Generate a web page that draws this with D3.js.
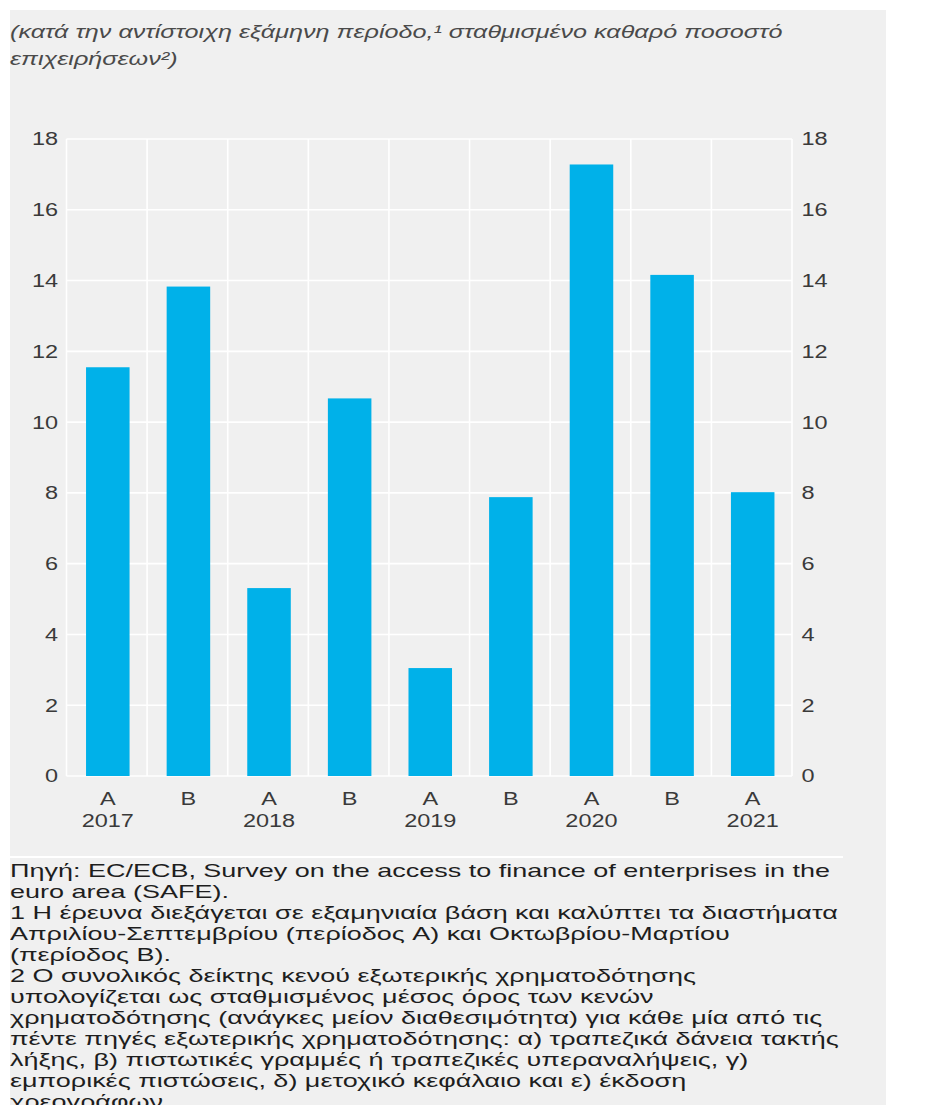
<!DOCTYPE html>
<html>
<head>
<meta charset="utf-8">
<script src="https://cdn.jsdelivr.net/npm/d3@7"></script>
<style>
  html, body { margin: 0; padding: 0; background: #ffffff; }
  svg { display: block; }
  text { font-family: "Liberation Sans", Arial, Helvetica, sans-serif; }
</style>
</head>
<body>
<svg id="chart" width="951" height="1115"></svg>
<script>
// Half-year survey rounds (A = Apr–Sep, B = Oct–Mar)
const periods = ["A", "B", "A", "B", "A", "B", "A", "B", "A"];
const years   = ["2017", "", "2018", "", "2019", "", "2020", "", "2021"];
// Weighted net percentage of enterprises (financing gap indicator)
const values  = [11.55, 13.83, 5.31, 10.67, 3.05, 7.88, 17.28, 14.16, 8.02];
const yTicks  = [0, 2, 4, 6, 8, 10, 12, 14, 16, 18];

const titleLines = [
  "(κατά την αντίστοιχη εξάμηνη περίοδο,¹ σταθμισμένο καθαρό ποσοστό",
  "επιχειρήσεων²)"
];
const noteLines = [
  "Πηγή: EC/ECB, Survey on the access to finance of enterprises in the",
  "euro area (SAFE).",
  "1 Η έρευνα διεξάγεται σε εξαμηνιαία βάση και καλύπτει τα διαστήματα",
  "Απριλίου-Σεπτεμβρίου (περίοδος A) και Οκτωβρίου-Μαρτίου",
  "(περίοδος B).",
  "2 Ο συνολικός δείκτης κενού εξωτερικής χρηματοδότησης",
  "υπολογίζεται ως σταθμισμένος μέσος όρος των κενών",
  "χρηματοδότησης (ανάγκες μείον διαθεσιμότητα) για κάθε μία από τις",
  "πέντε πηγές εξωτερικής χρηματοδότησης: α) τραπεζικά δάνεια τακτής",
  "λήξης, β) πιστωτικές γραμμές ή τραπεζικές υπεραναλήψεις, γ)",
  "εμπορικές πιστώσεις, δ) μετοχικό κεφάλαιο και ε) έκδοση",
  "χρεογράφων."
];

// the typeface is set wide, so glyphs are stretched horizontally
const axisStretch = 1.27;
const noteStretch = 1.42;
const titleStretch = 1.40;

const svg = d3.select("#chart");

const panel = { x: 10, y: 10, w: 876, h: 1095 };

svg.append("defs").append("clipPath").attr("id", "panelClip")
  .append("rect")
  .attr("x", panel.x).attr("y", panel.y)
  .attr("width", panel.w).attr("height", panel.h);

// panel background
svg.append("rect")
  .attr("x", panel.x).attr("y", panel.y)
  .attr("width", panel.w).attr("height", panel.h)
  .attr("fill", "#f0f0f0");

// subtitle
svg.append("g").selectAll("text")
  .data(titleLines).join("text")
  .attr("transform", (d, i) => `translate(10,${38 + i * 27}) scale(${titleStretch},1)`)
  .attr("font-size", 18)
  .attr("font-style", "italic")
  .attr("fill", "#4a4a4a")
  .text(d => d);

// plot area
const plot = { left: 66.5, right: 792, top: 139, bottom: 776 };

const x = d3.scaleBand()
  .domain(d3.range(values.length))
  .range([plot.left, plot.right])
  .paddingInner(0).paddingOuter(0);

const y = d3.scaleLinear()
  .domain([0, 18])
  .range([plot.bottom, plot.top]);

const barFrac = 0.54;

// horizontal gridlines
svg.append("g").selectAll("line")
  .data(yTicks).join("line")
  .attr("x1", plot.left).attr("x2", plot.right)
  .attr("y1", d => y(d)).attr("y2", d => y(d))
  .attr("stroke", "#ffffff").attr("stroke-width", 1.6);

// vertical gridlines at band boundaries
const bounds = d3.range(values.length + 1).map(i => plot.left + i * x.step());
svg.append("g").selectAll("line")
  .data(bounds).join("line")
  .attr("x1", d => d).attr("x2", d => d)
  .attr("y1", plot.top).attr("y2", plot.bottom)
  .attr("stroke", "#ffffff").attr("stroke-width", 1.6);

// bars
svg.append("g").selectAll("rect")
  .data(values).join("rect")
  .attr("x", (d, i) => x(i) + x.bandwidth() * (1 - barFrac) / 2 + 1)
  .attr("width", x.bandwidth() * barFrac)
  .attr("y", d => y(d))
  .attr("height", d => y(0) - y(d))
  .attr("fill", "#00b1e9");

// left axis
const leftAxis = svg.append("g")
  .attr("transform", `translate(${plot.left},0)`)
  .call(d3.axisLeft(y).tickValues(yTicks).tickSize(0));
leftAxis.select(".domain").remove();
leftAxis.selectAll("text")
  .attr("x", -8.5 / axisStretch)
  .attr("transform", `scale(${axisStretch},1)`)
  .attr("font-size", 18.5).attr("fill", "#3a3a3a")
  .style("font-family", "'Liberation Sans', Arial, sans-serif");

// right axis
const rightAxis = svg.append("g")
  .attr("transform", `translate(${plot.right},0)`)
  .call(d3.axisRight(y).tickValues(yTicks).tickSize(0));
rightAxis.select(".domain").remove();
rightAxis.selectAll("text")
  .attr("x", 9.5 / axisStretch)
  .attr("transform", `scale(${axisStretch},1)`)
  .attr("font-size", 18.5).attr("fill", "#3a3a3a")
  .style("font-family", "'Liberation Sans', Arial, sans-serif");

// category labels
const labelX = i => x(i) + x.bandwidth() / 2 + 1;
const xl = svg.append("g");
xl.selectAll("text.p")
  .data(periods).join("text")
  .attr("class", "p")
  .attr("transform", (d, i) => `translate(${labelX(i)},805) scale(${axisStretch},1)`)
  .attr("text-anchor", "middle")
  .attr("font-size", 18.5).attr("fill", "#3a3a3a")
  .text(d => d);
xl.selectAll("text.yr")
  .data(years).join("text")
  .attr("class", "yr")
  .attr("transform", (d, i) => `translate(${labelX(i)},827) scale(${axisStretch},1)`)
  .attr("text-anchor", "middle")
  .attr("font-size", 18.5).attr("fill", "#3a3a3a")
  .text(d => d);

// separator above notes
svg.append("line")
  .attr("x1", 10).attr("x2", 843)
  .attr("y1", 857).attr("y2", 857)
  .attr("stroke", "#ffffff").attr("stroke-width", 2);

// notes
svg.append("g")
  .attr("clip-path", "url(#panelClip)")
  .selectAll("text")
  .data(noteLines).join("text")
  .attr("transform", (d, i) => `translate(10,${877 + i * 21}) scale(${noteStretch},1)`)
  .attr("font-size", 19)
  .attr("fill", "#1e1e1e")
  .text(d => d);
</script>
</body>
</html>
